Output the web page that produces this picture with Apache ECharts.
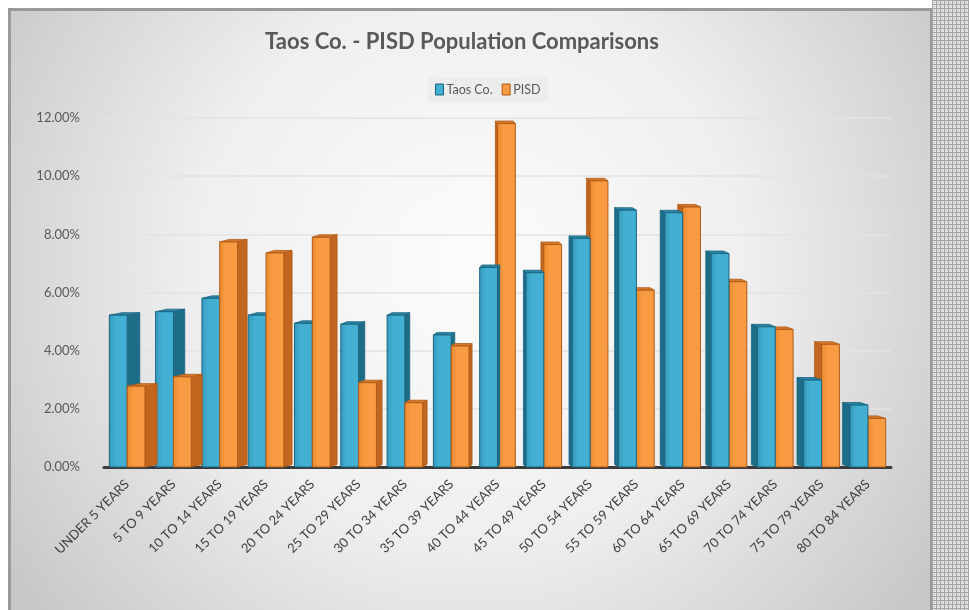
<!DOCTYPE html>
<html>
<head>
<meta charset="utf-8">
<script src="https://cdn.jsdelivr.net/npm/echarts@6/dist/echarts.min.js"></script>
<style>
  html, body { margin: 0; padding: 0; background: #ffffff; }
  #chart { width: 969px; height: 610px; }
</style>
</head>
<body>
<div id="chart"></div>
<script>
// Age groups shown along the horizontal axis
const ageGroups = [
  'UNDER 5 YEARS', '5 TO 9 YEARS', '10 TO 14 YEARS', '15 TO 19 YEARS',
  '20 TO 24 YEARS', '25 TO 29 YEARS', '30 TO 34 YEARS', '35 TO 39 YEARS',
  '40 TO 44 YEARS', '45 TO 49 YEARS', '50 TO 54 YEARS', '55 TO 59 YEARS',
  '60 TO 64 YEARS', '65 TO 69 YEARS', '70 TO 74 YEARS', '75 TO 79 YEARS',
  '80 TO 84 YEARS'
];

// Share of population in each age group (percent)
const taosCo = [5.22, 5.34, 5.80, 5.22, 4.94, 4.91, 5.22, 4.54, 6.86, 6.68, 7.86, 8.83, 8.74, 7.34, 4.82, 2.99, 2.13];
const pisd   = [2.78, 3.10, 7.74, 7.36, 7.90, 2.90, 2.21, 4.16, 11.81, 7.65, 9.84, 6.08, 8.94, 6.37, 4.73, 4.22, 1.67];

const yTicks = { min: 0, max: 12, interval: 2 };

const seriesNames = ['Taos Co.', 'PISD'];

const palette = {
  taos: { front: '#43afd2', frontDark: '#3599bb', side: '#1d6d88', top: '#2a86a6', edge: '#1b6580' },
  pisd: { front: '#f89b42', frontDark: '#ec8a2e', side: '#c2661f', top: '#d97a2a', edge: '#b05a18' }
};

// Fine grid texture for the strip beside the chart frame
function makeDotTexture() {
  const c = document.createElement('canvas');
  c.width = 4; c.height = 4;
  const g = c.getContext('2d');
  g.fillStyle = '#e4e4e4';
  g.fillRect(0, 0, 4, 4);
  g.fillStyle = '#a4a4a4';
  g.fillRect(0, 0, 4, 1);
  g.fillRect(0, 0, 1, 4);
  g.fillStyle = '#c4c4c4';
  g.fillRect(2, 2, 1, 1);
  return c;
}

// Draws one bar as a pseudo-3D column: front face, side face, top face
function makeBarRenderer(which) {
  const col = palette[which];
  const sign = which === 'taos' ? -1 : 1;
  return function (params, api) {
    const idx = api.value(0);
    const val = api.value(1);
    const top = api.coord([idx, val]);
    const base = api.coord([idx, 0]);
    const band = api.size([1, 0])[0];
    const w = band * 0.385;
    const xc = top[0] + sign * w / 2;
    const xl = xc - w / 2;
    const xr = xc + w / 2;
    const yT = top[1];
    const yB = base[1];
    const cs = params.coordSys;
    const mid = cs.x + cs.width / 2;
    // depth of the visible side face grows away from the middle of the plot
    let d;
    if (xc < mid) d = 2 + 0.028 * (mid - xc);
    else d = -(2 + 0.015 * (xc - mid));
    const rise = 2.5;
    const leftHalf = (top[0] < mid);
    let zBase;
    if (leftHalf) zBase = which === 'taos' ? 10 : 20;
    else zBase = which === 'taos' ? 20 : 10;

    const sideX = d > 0 ? xr : xl;
    const side = {
      type: 'polygon',
      z2: zBase,
      shape: { points: [[sideX, yT], [sideX + d, yT - rise], [sideX + d, yB - rise], [sideX, yB]] },
      style: { fill: col.side, stroke: col.edge, lineWidth: 0.8 }
    };
    const topFace = {
      type: 'polygon',
      z2: zBase + 1,
      shape: { points: [[xl, yT], [xr, yT], [xr + d, yT - rise], [xl + d, yT - rise]] },
      style: { fill: col.top, stroke: col.edge, lineWidth: 0.8 }
    };
    const front = {
      type: 'rect',
      z2: zBase + 2,
      shape: { x: xl, y: yT, width: w, height: yB - yT },
      style: {
        fill: {
          type: 'linear', x: 0, y: 0, x2: 1, y2: 0,
          colorStops: [
            { offset: 0, color: col.frontDark },
            { offset: 0.35, color: col.front },
            { offset: 1, color: col.front }
          ]
        },
        stroke: col.edge,
        lineWidth: 1
      }
    };
    return { type: 'group', children: [side, topFace, front] };
  };
}

const chart = echarts.init(document.getElementById('chart'), null, { renderer: 'canvas' });

const option = {
  animation: false,
  textStyle: { fontFamily: 'Lato, "Open Sans", sans-serif' },
  graphic: [
    {
      type: 'rect', z: -10, silent: true,
      shape: { x: 9.5, y: 9.5, width: 922, height: 610 },
      style: {
        fill: {
          type: 'radial', x: 0.5, y: 0.42, r: 0.9,
          colorStops: [
            { offset: 0, color: '#fcfcfc' },
            { offset: 0.5, color: '#efefef' },
            { offset: 1, color: '#c8c8c8' }
          ]
        },
        stroke: '#9a9a9a',
        lineWidth: 3
      }
    },
    {
      type: 'rect', z: -10, silent: true,
      shape: { x: 932, y: 0, width: 37, height: 610 },
      style: { fill: { image: makeDotTexture(), repeat: 'repeat' } }
    }
  ],
  title: {
    text: 'Taos Co. - PISD Population Comparisons',
    left: 457,
    top: 26,
    textAlign: 'center',
    textStyle: { fontFamily: 'Lato, sans-serif', fontSize: 22, fontWeight: 'bold', color: '#595959' }
  },
  legend: {
    data: [
      { name: seriesNames[0], itemStyle: { color: palette.taos.front, borderColor: palette.taos.edge, borderWidth: 1 } },
      { name: seriesNames[1], itemStyle: { color: palette.pisd.front, borderColor: palette.pisd.edge, borderWidth: 1 } }
    ],
    left: 428,
    top: 77,
    icon: 'rect',
    itemWidth: 8,
    itemHeight: 11,
    itemGap: 9,
    padding: [6, 7, 6, 7],
    backgroundColor: 'rgba(236,236,236,0.95)',
    textStyle: { fontFamily: 'Lato, sans-serif', fontSize: 12.5, color: '#595959', padding: [0, 0, 0, -2] }
  },
  grid: { left: 104, right: 78, top: 118, bottom: 143, containLabel: false },
  xAxis: {
    type: 'category',
    data: ageGroups,
    axisLine: { show: true, lineStyle: { color: '#3a3a3a', width: 3 } },
    axisTick: { show: false },
    axisLabel: {
      rotate: 45,
      interval: 0,
      margin: 15,
      fontFamily: 'Lato, sans-serif',
      fontSize: 13,
      color: '#404040'
    }
  },
  yAxis: {
    type: 'value',
    min: yTicks.min,
    max: yTicks.max,
    interval: yTicks.interval,
    axisLine: { show: false },
    axisTick: { show: false },
    splitLine: { lineStyle: { color: '#e3e3e3', width: 1.5 } },
    axisLabel: {
      margin: 24,
      fontFamily: 'Lato, sans-serif',
      fontSize: 13,
      color: '#595959',
      formatter: v => v.toFixed(2) + '%'
    }
  },
  series: [
    {
      name: seriesNames[0],
      type: 'custom',
      itemStyle: { color: palette.taos.front },
      renderItem: makeBarRenderer('taos'),
      encode: { x: 0, y: 1 },
      data: taosCo.map((v, i) => [i, v])
    },
    {
      name: seriesNames[1],
      type: 'custom',
      itemStyle: { color: palette.pisd.front },
      renderItem: makeBarRenderer('pisd'),
      encode: { x: 0, y: 1 },
      data: pisd.map((v, i) => [i, v])
    }
  ]
};

chart.setOption(option);
</script>
</body>
</html>
